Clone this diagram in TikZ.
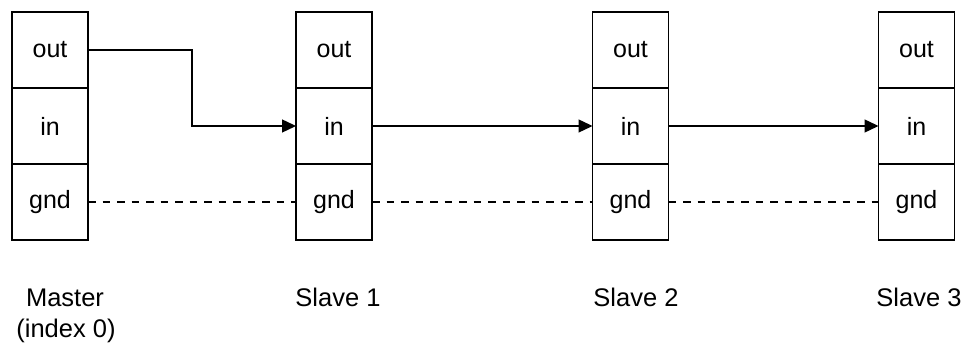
\documentclass[tikz,border=0pt]{standalone}
\usepackage{fontspec}
\setmainfont{Liberation Sans}
\usetikzlibrary{arrows.meta}
\begin{document}
\begin{tikzpicture}[x=1pt,y=-1pt,
  cell/.style={draw=black,line width=1.4pt,minimum width=76pt,minimum height=76pt,
    inner sep=0pt,outer sep=0pt,font=\fontsize{25}{30}\selectfont},
  caption/.style={anchor=base,font=\fontsize{25.5}{30}\selectfont,inner sep=0pt},
  link/.style={line width=1.4pt,-{Triangle[length=14pt,width=13pt]}},
  groundline/.style={line width=1.4pt,dash pattern=on 7.5pt off 7pt}]
\useasboundingbox (0,0) rectangle (967,344);
\fill[white] (0,0) rectangle (967,344);

% one column of three stacked cells per device
\foreach \id/\x in {m/50,s1/334,s2/630.5,s3/916.5}{
  \node[cell] (\id out) at (\x,50) {out};
  \node[cell] (\id in)  at (\x,126) {in};
  \node[cell] (\id gnd) at (\x,202) {gnd};
}

% device captions
\node[caption] (cm)  at (65,307) {Master};
\node[caption] (cm2) at (66,338) {(index 0)};
\node[caption] (c1)  at (338,307) {Slave 1};
\node[caption] (c2)  at (636,307) {Slave 2};
\node[caption] (c3)  at (919,307) {Slave 3};

% signal chain
\draw[link] (mout.east) -- (192,50) |- (s1in.west);
\draw[link] (s1in.east) -- (s2in.west);
\draw[link] (s2in.east) -- (s3in.west);

% shared ground
\draw[groundline] (mgnd.east) -- (s1gnd.west);
\draw[groundline] (s1gnd.east) -- (s2gnd.west);
\draw[groundline] (s2gnd.east) -- (s3gnd.west);
\end{tikzpicture}
\end{document}
